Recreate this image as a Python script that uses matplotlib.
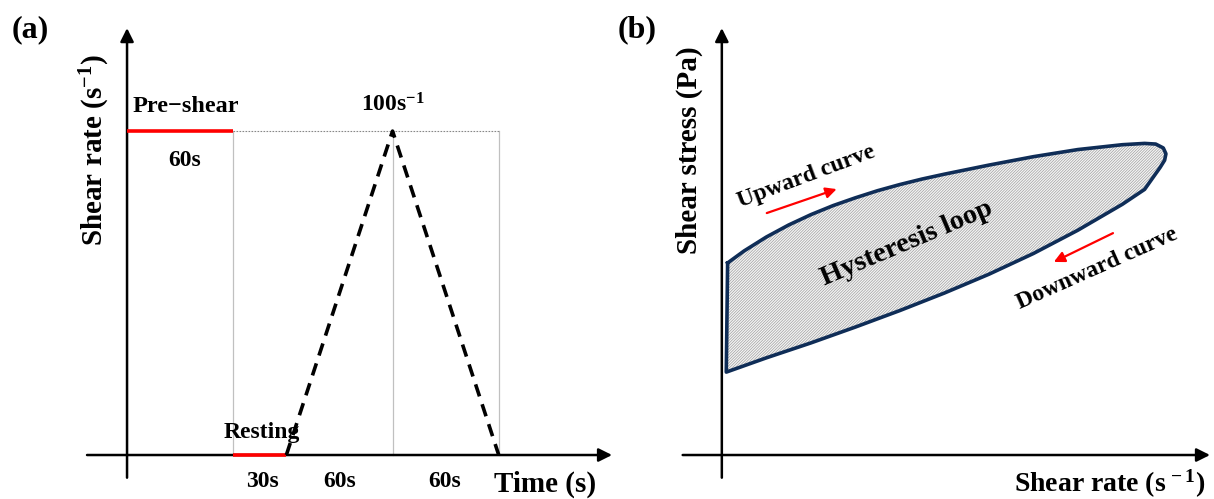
import matplotlib
matplotlib.use("Agg")
import matplotlib.pyplot as plt
import numpy as np

plt.rcParams["font.family"] = ["Liberation Serif", "DejaVu Serif"]
plt.rcParams["font.weight"] = "bold"
plt.rcParams["mathtext.fontset"] = "custom"
plt.rcParams["mathtext.rm"] = "Liberation Serif:bold"
plt.rcParams["mathtext.bf"] = "Liberation Serif:bold"
plt.rcParams["mathtext.it"] = "Liberation Serif:bold:italic"
plt.rcParams["mathtext.default"] = "bf"
plt.rcParams["hatch.linewidth"] = 0.5

# (a) shear protocol: time (s) vs shear rate (1/s)
preshear_t = [0, 60]
preshear_rate = [100, 100]
resting_t = [60, 90]
resting_rate = [0, 0]
ramp_t = [90, 150, 210]
ramp_rate = [0, 100, 0]
guide_t = [60, 150, 210]
peak_rate = 100

# (b) hysteresis loop, schematic units
up_rate = [1.3, 5, 10, 15, 20, 25, 30, 35, 40, 45, 50, 60, 70, 80, 90, 95, 97.5, 99.2, 99.8, 99.5]
up_stress = [59.3, 63.0, 67.3, 71.0, 74.2, 77.0, 79.4, 81.6, 83.5, 85.2, 86.7, 89.5, 92.1, 94.3, 95.8, 96.2, 96.0, 94.8, 93.0, 91.0]
down_rate = [98.5, 95, 90, 80, 70, 60, 50, 40, 30, 20, 10, 1.0]
down_stress = [88.8, 82.0, 77.4, 69.4, 62.2, 55.8, 50.0, 44.6, 39.5, 34.6, 30.0, 25.6]

W, H = 1214, 499
fig = plt.figure(figsize=(W / 100, H / 100), dpi=100)


def px_axes(x0, x1, y0, y1):
    # axes placed from pixel box (top-down y)
    return fig.add_axes([x0 / W, (H - y1) / H, (x1 - x0) / W, (y1 - y0) / H])


# ---------------- panel (a) ----------------
ax = px_axes(75, 620, 20, 490)
ax.set_xlim(-29.4, 278.5)
ax.set_ylim(-10.8, 134.3)
ax.axis("off")

arrow_kw = dict(arrowstyle="-|>", lw=1.8, color="black", mutation_scale=20, shrinkA=0, shrinkB=0)
ax.annotate("", xy=(274, 0), xytext=(-22.6, 0), arrowprops=arrow_kw)
ax.annotate("", xy=(0, 131.8), xytext=(0, -7), arrowprops=arrow_kw)

for t in guide_t:
    ax.plot([t, t], [0, peak_rate], color="#c0c0c0", lw=0.9, zorder=1)
ax.plot([guide_t[0], guide_t[-1]], [peak_rate, peak_rate], color="#888888", lw=0.8, ls=(0, (1.5, 1.2)), zorder=1)

ax.plot(preshear_t, preshear_rate, color="red", lw=2.6, solid_capstyle="butt", zorder=3)
ax.plot(resting_t, resting_rate, color="red", lw=2.6, solid_capstyle="butt", zorder=3)
ax.plot(ramp_t, ramp_rate, color="black", lw=2.6, dashes=(3.5, 2.3), zorder=3)

ax.text(33.3, 107.7, "Pre\u2212shear", fontsize=17.5, ha="center", va="center")
ax.text(32.8, 91.0, "60s", fontsize=17, ha="center", va="center")
ax.text(150, 108, "100s$^{-1}$", fontsize=17, ha="center", va="center")
ax.text(76.3, 7.1, "Resting", fontsize=17, ha="center", va="center")
ax.text(76.3, -8.3, "30s", fontsize=17, ha="center", va="center")
ax.text(120, -8.3, "60s", fontsize=17, ha="center", va="center")
ax.text(179.7, -8.3, "60s", fontsize=17, ha="center", va="center")
ax.text(236, -9.0, "Time (s)", fontsize=21, ha="center", va="center")
ax.text(-18.1, 94.1, "Shear rate (s$^{-1}$)", fontsize=21, ha="center", va="center", rotation=90)

fig.text(30 / W, 1 - 30 / H, "(a)", fontsize=23, ha="center", va="center")

# ---------------- panel (b) ----------------
bx = px_axes(680, 1214, 20, 490)
bx.set_xlim(-9.4, 110.6)
bx.set_ylim(-10.8, 134.3)
bx.axis("off")

bx.annotate("", xy=(109.7, 0), xytext=(-8.8, 0), arrowprops=arrow_kw)
bx.annotate("", xy=(0, 131.8), xytext=(0, -7), arrowprops=arrow_kw)

loop_x = np.concatenate([up_rate, down_rate, [up_rate[0]]])
loop_y = np.concatenate([up_stress, down_stress, [up_stress[0]]])
bx.fill(loop_x, loop_y, facecolor="#f5f5f5", edgecolor="#a0a0a0", hatch="/" * 12, lw=0, zorder=2)
bx.plot(loop_x, loop_y, color="#0f2d57", lw=2.6, solid_joinstyle="round", zorder=3)

red_kw = dict(arrowstyle="-|>", lw=1.6, color="red", mutation_scale=16, shrinkA=0, shrinkB=0)
bx.annotate("", xy=(25.8, 82.1), xytext=(10.1, 74.7), arrowprops=red_kw)
bx.annotate("", xy=(74.6, 59.6), xytext=(87.9, 68.5), arrowprops=red_kw)

bx.text(18.9, 85.8, "Upward curve", fontsize=17, ha="center", va="center", rotation=20.5, rotation_mode="anchor")
bx.text(41.6, 65.4, "Hysteresis loop", fontsize=20.5, ha="center", va="center", rotation=23, rotation_mode="anchor")
bx.text(84.3, 57.7, "Downward curve", fontsize=17, ha="center", va="center", rotation=24, rotation_mode="anchor")
bx.text(87.2, -9.0, "Shear rate (s$^{\\,-1}$)", fontsize=20, ha="center", va="center")
bx.text(-7.2, 94.1, "Shear stress (Pa)", fontsize=21, ha="center", va="center", rotation=90)

fig.text(637 / W, 1 - 30 / H, "(b)", fontsize=23, ha="center", va="center")

fig.savefig("out.png", dpi=100, facecolor="white")
